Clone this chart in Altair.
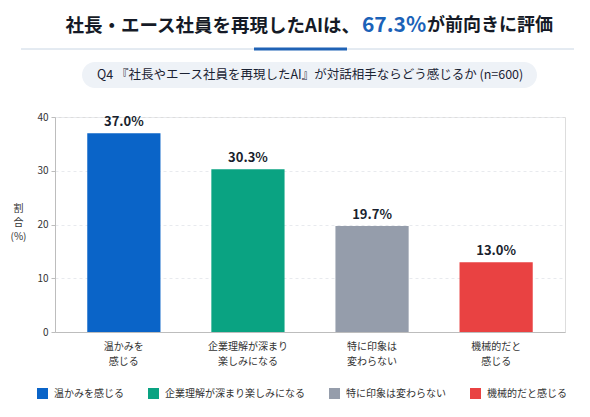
import altair as alt
import pandas as pd

FONT = "Noto Sans CJK JP"

categories = ["温かみを感じる", "企業理解が深まり楽しみになる", "特に印象は変わらない", "機械的だと感じる"]
values = [37.0, 30.3, 19.7, 13.0]
value_labels = ["37.0%", "30.3%", "19.7%", "13.0%"]
axis_line1 = ["温かみを", "企業理解が深まり", "特に印象は", "機械的だと"]
axis_line2 = ["感じる", "楽しみになる", "変わらない", "感じる"]
colors = ["#0a64c8", "#0aa382", "#959dab", "#e94242"]
y_ticks = [0, 10, 20, 30, 40]

title_pre = "社長・エース社員を再現したAIは、"
title_pct = "67.3%"
title_post = "が前向きに評価"
subtitle = "Q4 『社長やエース社員を再現したAI』が対話相手ならどう感じるか (n=600)"
y_title = ["割", "合", "(%)"]

df = pd.DataFrame({"cat": categories, "val": values, "lab": value_labels})

expr = "datum.label"
for c, a, b in reversed(list(zip(categories, axis_line1, axis_line2))):
    expr = f"datum.value == '{c}' ? ['{a}', '{b}'] : ({expr})"

x_enc = alt.X(
    "cat:N",
    sort=categories,
    scale=alt.Scale(paddingInner=0.41, paddingOuter=0.26),
    axis=alt.Axis(
        title=None, labelAngle=0, labelExpr=expr, ticks=False,
        labelFontSize=10, labelColor="#333333", labelPadding=9,
        domainColor="#bdbdbd", labelLineHeight=15, labelFont=FONT,
        grid=False,
    ),
)
y_enc = alt.Y(
    "val:Q",
    scale=alt.Scale(domain=[0, 40]),
    axis=alt.Axis(
        values=y_ticks, title=y_title, titleAngle=0, titleFontSize=10,
        titleFontWeight="normal", titleColor="#333333", titleX=-37, titleY=86,
        titleAlign="center", titleBaseline="top", titleLineHeight=14, titleFont=FONT,
        labelFontSize=10, labelColor="#333333", labelFont=FONT,
        tickSize=4, tickColor="#bdbdbd", domainColor="#bdbdbd",
        gridColor="#e8eaee", gridDash=[3, 3], labelPadding=3,
    ),
)

base = alt.Chart(df)
bars = base.mark_bar().encode(
    x=x_enc,
    y=y_enc,
    color=alt.Color(
        "cat:N",
        sort=categories,
        scale=alt.Scale(domain=categories, range=colors),
        legend=alt.Legend(
            title=None, orient="none", legendX=-18, legendY=271,
            direction="horizontal", symbolType="square", symbolSize=121,
            symbolStrokeWidth=0, labelFontSize=10, labelColor="#333333",
            labelFont=FONT, columnPadding=24, labelOffset=6,
        ),
    ),
)
labels = base.mark_text(
    baseline="bottom", dy=-4, fontSize=13, fontWeight="bold", color="#1a1f2e", font=FONT
).encode(x=alt.X("cat:N", sort=categories), y="val:Q", text="lab:N")

one = pd.DataFrame({"a": [0]})

title1 = alt.Chart(one).mark_text(
    text=title_pre, align="right", baseline="middle", fontSize=18.5, fontWeight="bold",
    color="#151a26", font=FONT
).encode(x=alt.value(305), y=alt.value(-91))
title2 = alt.Chart(one).mark_text(
    text=title_pct, align="center", baseline="middle", fontSize=21, fontWeight="bold",
    color="#1b62b8", font=FONT
).encode(x=alt.value(339), y=alt.value(-91))
title3 = alt.Chart(one).mark_text(
    text=title_post, align="left", baseline="middle", fontSize=18, fontWeight="bold",
    color="#151a26", font=FONT
).encode(x=alt.value(372), y=alt.value(-91))

line_thin = alt.Chart(one).mark_rule(color="#c9d6e4", strokeWidth=1).encode(
    x=alt.value(-34), x2=alt.value(519), y=alt.value(-68)
)
line_thick = alt.Chart(one).mark_rule(color="#1f62b5", strokeWidth=3).encode(
    x=alt.value(199), x2=alt.value(292), y=alt.value(-68)
)
pill = alt.Chart(one).mark_rect(color="#eef2f7", cornerRadius=13).encode(
    x=alt.value(27), x2=alt.value(482), y=alt.value(-55), y2=alt.value(-29)
)
sub = alt.Chart(one).mark_text(
    text=subtitle, align="left", baseline="middle", fontSize=12.5, color="#1a2233", font=FONT
).encode(x=alt.value(42), y=alt.value(-42))

chart = alt.layer(
    pill, sub, line_thin, line_thick, title1, title2, title3, bars, labels
).properties(
    width=510, height=215,
    autosize=alt.AutoSizeParams(type="none"),
    padding={"left": 47, "top": 109, "right": 15, "bottom": 75},
).configure_view(stroke=None).configure(font=FONT)

chart.save("out.html", embed_options={"renderer": "svg", "actions": False})
